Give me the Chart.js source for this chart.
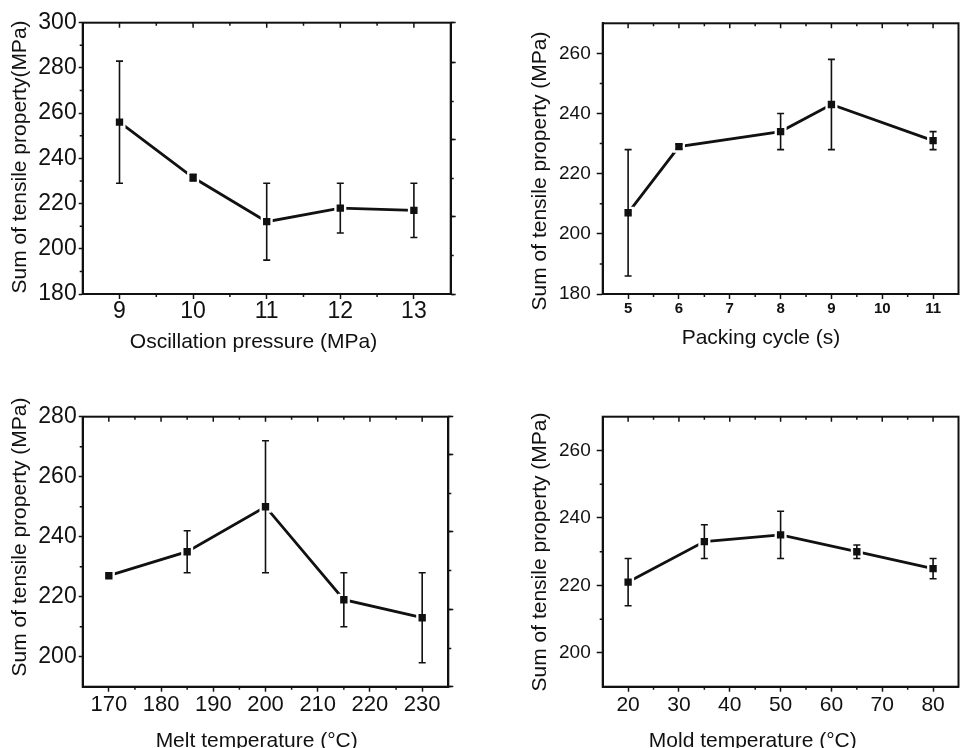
<!DOCTYPE html>
<html>
<head>
<meta charset="utf-8">
<script src="https://cdn.jsdelivr.net/npm/chart.js"></script>
<style>
html, body { margin: 0; padding: 0; background: #fff; overflow: hidden; width: 961px; height: 748px; position: relative; }
canvas { position: absolute; }
.lbl { position: absolute; font-family: "Liberation Sans", Arial, sans-serif; font-size: 21px; line-height: 21px; color: #111; white-space: nowrap; }
.xt { transform: translateX(-50%); }
.yt { transform: translate(-50%, -50%) rotate(-90deg); }
</style>
</head>
<body>
<canvas id="c1" width="480" height="370" style="left:0;top:0"></canvas>
<canvas id="c2" width="487" height="370" style="left:480px;top:0"></canvas>
<canvas id="c3" width="480" height="378" style="left:0;top:370px"></canvas>
<canvas id="c4" width="487" height="378" style="left:480px;top:370px"></canvas>

<div class="lbl yt" style="left:18px;top:156.7px">Sum of tensile property(MPa)</div>
<div class="lbl yt" style="left:538px;top:170.8px">Sum of tensile property (MPa)</div>
<div class="lbl yt" style="left:18px;top:536.7px">Sum of tensile property (MPa)</div>
<div class="lbl yt" style="left:538px;top:551.7px">Sum of tensile property (MPa)</div>

<div class="lbl xt" style="left:253.5px;top:330.3px">Oscillation pressure (MPa)</div>
<div class="lbl xt" style="left:761px;top:325.6px">Packing cycle (s)</div>
<div class="lbl xt" style="left:256.7px;top:729px">Melt temperature (°C)</div>
<div class="lbl xt" style="left:752.8px;top:729px">Mold temperature (°C)</div>

<script>
// values
const pressure = [9, 10, 11, 12, 13];
const pressureSum = [256, 231.5, 212, 218, 217];
const pressureErr = [27, 1.5, 17, 11, 12];

const cycle = [5, 6, 8, 9, 11];
const cycleSum = [207, 229, 234, 243, 231];
const cycleErr = [21, 0.8, 6, 15, 3];

const meltT = [170, 185, 200, 215, 230];
const meltSum = [227, 235, 250, 219, 213];
const meltErr = [0, 7, 22, 9, 15];

const moldT = [20, 35, 50, 65, 80];
const moldSum = [221, 233, 235, 230, 225];
const moldErr = [7, 5, 7, 2, 3];

// tick labels
const pressureTicks = [9, 10, 11, 12, 13];
const cycleTicks = [5, 6, 7, 8, 9, 10, 11];
const meltTicks = [170, 180, 190, 200, 210, 220, 230];
const moldTicks = [20, 30, 40, 50, 60, 70, 80];
const sumTicks1 = [180, 200, 220, 240, 260, 280, 300];
const sumTicks2 = [180, 200, 220, 240, 260];
const sumTicks3 = [200, 220, 240, 260, 280];
const sumTicks4 = [200, 220, 240, 260];

const INK = '#111';
const FONT = '"Liberation Sans", Arial, sans-serif';

// error bars drawn on top of the markers
const errorBars = {
  id: 'errorBars',
  afterDatasetsDraw(chart) {
    const ctx = chart.ctx, xs = chart.scales.x, ys = chart.scales.y;
    chart.data.datasets.forEach(ds => {
      if (!ds.errors) return;
      ctx.save();
      ctx.strokeStyle = INK;
      ctx.lineWidth = 1.6;
      ds.data.forEach((p, i) => {
        const e = ds.errors[i];
        if (!e) return;
        const x = xs.getPixelForValue(p.x);
        const y1 = ys.getPixelForValue(p.y + e);
        const y2 = ys.getPixelForValue(p.y - e);
        ctx.beginPath();
        ctx.moveTo(x, y1); ctx.lineTo(x, y2);
        ctx.moveTo(x - 3.5, y1); ctx.lineTo(x + 3.5, y1);
        ctx.moveTo(x - 3.5, y2); ctx.lineTo(x + 3.5, y2);
        ctx.stroke();
      });
      ctx.restore();
    });
  }
};

// box frame, inward ticks on top, minor ticks
const frame = {
  id: 'frame',
  afterDraw(chart, args, opts) {
    const {ctx, chartArea: a} = chart;
    const x = chart.scales.x, y = chart.scales.y;
    ctx.save();
    ctx.strokeStyle = INK;
    ctx.lineWidth = 2;
    ctx.strokeRect(a.left, a.top, a.right - a.left, a.bottom - a.top);
    ctx.lineWidth = 1.5;
    ctx.beginPath();
    const nx = Math.round((x.max - x.min) / opts.xMinor);
    for (let k = 0; k <= nx; k++) {
      const v = x.min + k * opts.xMinor;
      const px = x.getPixelForValue(v);
      if (px < a.left + 1 || px > a.right - 1) continue;
      const major = Math.abs(v / opts.xMajor - Math.round(v / opts.xMajor)) < 1e-6;
      ctx.moveTo(px, a.top);
      ctx.lineTo(px, a.top + (major ? 5 : 3));
      if (!major) { ctx.moveTo(px, a.bottom); ctx.lineTo(px, a.bottom + 3); }
    }
    const ny = Math.round((y.max - y.min) / opts.yMinor);
    for (let k = 0; k <= ny; k++) {
      const v = y.min + k * opts.yMinor;
      const py = y.getPixelForValue(v);
      if (py < a.top + 1 || py > a.bottom - 1) continue;
      const major = Math.abs(v / opts.yMajor - Math.round(v / opts.yMajor)) < 1e-6;
      if (!major) { ctx.moveTo(a.left, py); ctx.lineTo(a.left - 3, py); }
    }
    ctx.stroke();
    ctx.restore();
  }
};

function noPad(s) {
  s.paddingTop = 0; s.paddingBottom = 0; s.paddingLeft = 0; s.paddingRight = 0;
}

function series(xs, ys, errs) {
  const pts = () => xs.map((x, i) => ({x: x, y: ys[i]}));
  return [
    {data: pts(), errors: errs, showLine: false, pointStyle: 'rect', pointRadius: 5.2,
     pointBackgroundColor: INK, pointBorderWidth: 0, order: 1},
    {data: pts(), showLine: false, pointStyle: 'rect', pointRadius: 8.5,
     pointBackgroundColor: '#fff', pointBorderWidth: 0, order: 2},
    {data: pts(), borderColor: INK, borderWidth: 2.8, pointRadius: 0, order: 3}
  ];
}

function makeChart(id, xs, ys, errs, c) {
  const canvas = document.getElementById(id);
  const W = canvas.width, H = canvas.height;
  const scales = {
    x: {
      type: 'linear', position: 'bottom', min: c.xMin, max: c.xMax,
      afterBuildTicks: s => { s.ticks = c.xTicks.map(v => ({value: v})); },
      ticks: {maxRotation: 0, autoSkip: false,
              color: INK, padding: c.xPad, font: {family: FONT, size: c.xFont, weight: c.xBold ? 'bold' : 'normal'}},
      grid: {drawOnChartArea: false, tickLength: 5, tickWidth: 1.5, tickColor: INK},
      border: {color: INK, width: 2},
      afterFit: s => { s.height = H - c.bottom; noPad(s); }
    },
    y: {
      type: 'linear', position: 'left', min: c.yMin, max: c.yMax,
      afterBuildTicks: s => { s.ticks = c.yTicks.map(v => ({value: v})); },
      ticks: {color: INK, padding: c.yPad, font: {family: FONT, size: c.yFont}},
      grid: {drawOnChartArea: false, tickLength: c.yTick, tickWidth: 1.5, tickColor: INK},
      border: {color: INK, width: 2},
      afterFit: s => { s.width = c.left; noPad(s); }
    }
  };
  if (c.rMax) {
    scales.r1 = {
      type: 'linear', position: 'right', min: 0, max: c.rMax, weight: 0,
      ticks: {display: false, stepSize: 1},
      grid: {drawOnChartArea: false, tickLength: 3, tickWidth: 1.5, tickColor: INK},
      border: {display: false},
      afterFit: s => { s.width = 0; noPad(s); }
    };
    scales.r2 = {
      type: 'linear', position: 'right', min: 0, max: c.rMax, weight: 1,
      ticks: {display: false, stepSize: 2},
      grid: {drawOnChartArea: false, tickLength: 5, tickWidth: 1.5, tickColor: INK},
      border: {color: INK, width: 2},
      afterFit: s => { s.width = W - c.right; noPad(s); }
    };
  }
  return new Chart(canvas, {
    type: 'line',
    data: {datasets: series(xs, ys, errs)},
    options: {
      responsive: false,
      animation: false,
      events: [],
      layout: {padding: {top: c.top, left: 0, bottom: 0, right: c.rMax ? 0 : W - c.right}},
      plugins: {
        legend: {display: false},
        tooltip: {enabled: false},
        frame: {xMajor: c.xMajor, xMinor: c.xMajor / 2, yMajor: c.yMajor, yMinor: c.yMajor / 2}
      },
      scales: scales
    },
    plugins: [errorBars, frame]
  });
}

makeChart('c1', pressure, pressureSum, pressureErr, {
  left: 82.7, top: 22.7, right: 450.7, bottom: 294,
  xMin: 8.5, xMax: 13.5, xMajor: 1, xTicks: pressureTicks, xFont: 23, xPad: -1,
  yMin: 180, yMax: 300, yMajor: 20, yTicks: sumTicks1, yFont: 23, yPad: 2, yTick: 4,
  rMax: 7.03
});

makeChart('c2', cycle, cycleSum, cycleErr, {
  left: 122.7, top: 23.3, right: 487, bottom: 294,
  xMin: 4.5, xMax: 11.5, xMajor: 1, xTicks: cycleTicks, xFont: 15, xBold: true, xPad: 1,
  yMin: 180, yMax: 270, yMajor: 20, yTicks: sumTicks2, yFont: 19, yPad: 6, yTick: 6
});

makeChart('c3', meltT, meltSum, meltErr, {
  left: 82.7, top: 46.7, right: 448.3, bottom: 316.7,
  xMin: 165, xMax: 235, xMajor: 10, xTicks: meltTicks, xFont: 22, xPad: 0,
  yMin: 190, yMax: 280, yMajor: 20, yTicks: sumTicks3, yFont: 23, yPad: 2, yTick: 4,
  rMax: 6.98
});

makeChart('c4', moldT, moldSum, moldErr, {
  left: 122.7, top: 46.7, right: 487, bottom: 316.7,
  xMin: 15, xMax: 85, xMajor: 10, xTicks: moldTicks, xFont: 21, xPad: 1,
  yMin: 190, yMax: 270, yMajor: 20, yTicks: sumTicks4, yFont: 19, yPad: 6, yTick: 6
});
</script>
</body>
</html>
